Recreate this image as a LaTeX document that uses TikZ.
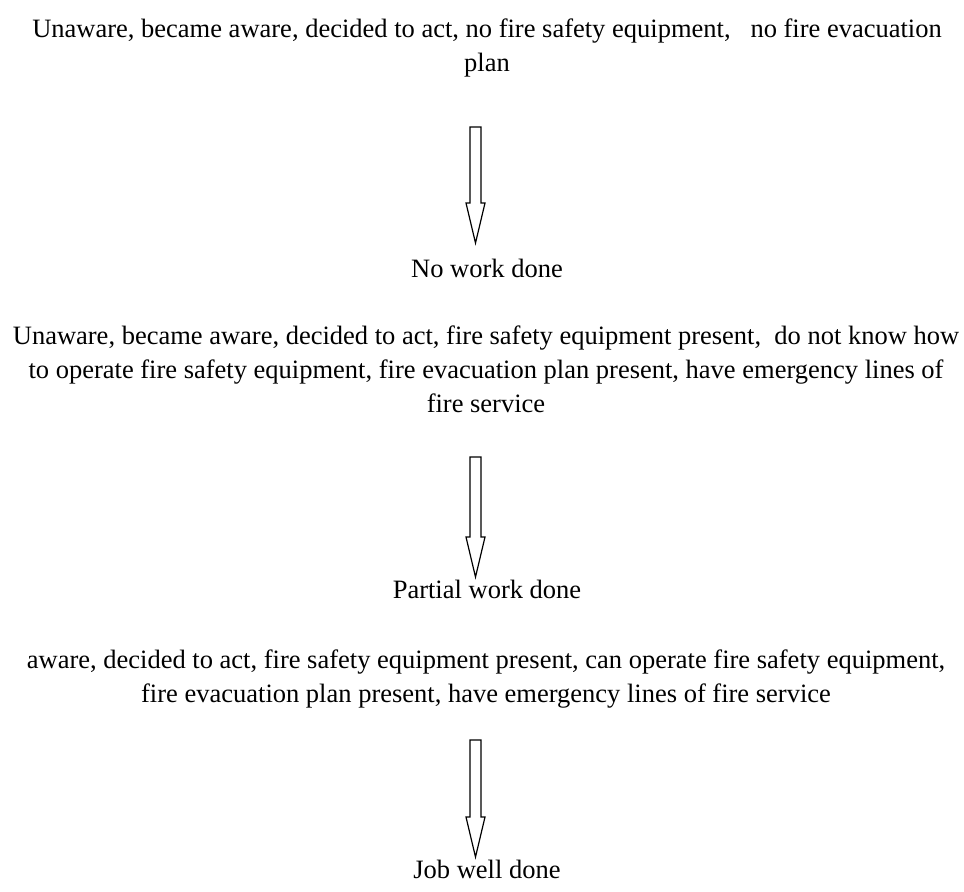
\documentclass[tikz,border=0pt]{standalone}
\usepackage{fontspec}
\setmainfont{Liberation Serif}
\usetikzlibrary{calc}
\begin{document}
\begin{tikzpicture}[x=0.5pt, y=-0.5pt,
    txt/.style={inner sep=0pt, align=center, anchor=base,
      font=\fontsize{13.25}{17}\selectfont},
    hollow arrow/.style={line width=0.6pt, line join=miter,
      to path={($(\tikztostart)+(-5.5,0)$) -- ($(\tikztostart)+(5.5,0)$)
        -- ($(\tikztotarget)+(5.5,-40)$) -- ($(\tikztotarget)+(9.5,-40)$)
        -- (\tikztotarget) -- ($(\tikztotarget)+(-9.5,-40)$)
        -- ($(\tikztotarget)+(-5.5,-40)$) -- cycle}}]
    \useasboundingbox (0,0) rectangle (964,891);
    % Bloques de texto (base = ultima linea)
    \node[txt] (b1) at (487,71) {Unaware, became aware, decided to act, no fire safety equipment,\ \ \ no fire evacuation\\plan};
    \node[txt] (r1) at (487,277) {No work done};
    \node[txt] (b2) at (486,412) {Unaware, became aware, decided to act, fire safety equipment present,\ \ do not know how\\to operate fire safety equipment, fire evacuation plan present, have emergency lines of\\fire service};
    \node[txt] (r2) at (487,598) {Partial work done};
    \node[txt] (b3) at (486,702) {aware, decided to act, fire safety equipment present, can operate fire safety equipment,\\fire evacuation plan present, have emergency lines of fire service};
    \node[txt] (r3) at (487,878) {Job well done};
    % Extremos de las flechas
    \coordinate (t1) at (475.5,127);
    \coordinate (h1) at (475.5,243);
    \coordinate (t2) at (475.5,457);
    \coordinate (h2) at (475.5,577);
    \coordinate (t3) at (475.5,740);
    \coordinate (h3) at (475.5,857);
    % Flechas huecas
    \draw[hollow arrow] (t1) to (h1);
    \draw[hollow arrow] (t2) to (h2);
    \draw[hollow arrow] (t3) to (h3);
\end{tikzpicture}
\end{document}
